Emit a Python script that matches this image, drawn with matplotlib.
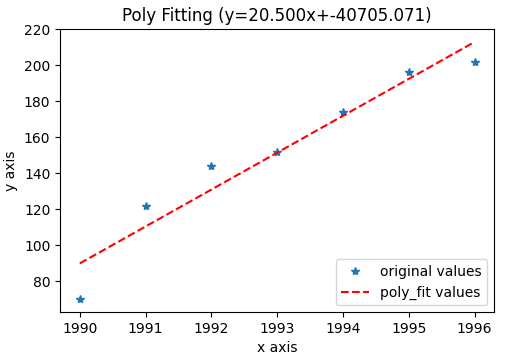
import numpy as np
import matplotlib
matplotlib.use('Agg')
import matplotlib.pyplot as plt

# --- Data ---
years = np.array([1990, 1991, 1992, 1993, 1994, 1995, 1996])
values = np.array([70, 122, 144, 152, 174, 196, 202])

# --- Linear fit ---
coef = np.polyfit(years, values, 1)
fit = np.polyval(coef, years)

fig = plt.figure(figsize=(5.09, 3.6), dpi=100)
ax = fig.add_axes([0.118, 0.133, 0.853, 0.786])

ax.plot(years, values, '*', label='original values')
ax.plot(years, fit, 'r--', label='poly_fit values')

ax.set_xlabel('x axis')
ax.set_ylabel('y axis')
ax.set_title('Poly Fitting (y=%.3fx+%.3f)' % (coef[0], coef[1]))
ax.legend(loc=4)

fig.savefig('out.png', dpi=100)
